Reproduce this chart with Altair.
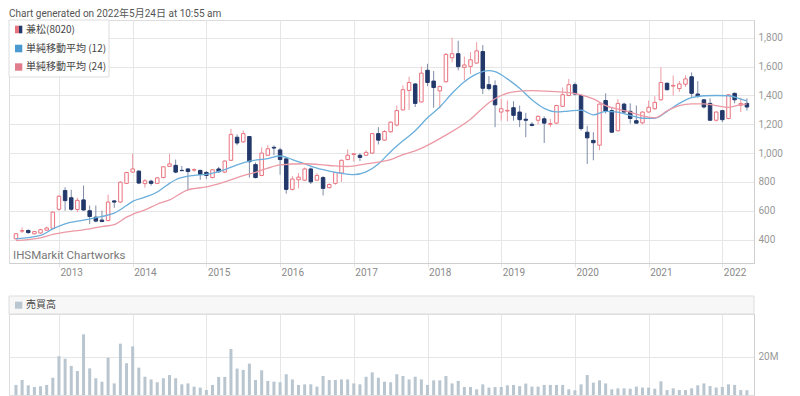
import json
import altair as alt
import pandas as pd

# ---------------- data (monthly, 2012-06 .. 2022-05) ----------------
opens = [405, 458, 463, 440, 445, 465, 478, 610, 740, 690, 608, 675, 600, 555, 535, 532, 668, 660, 790, 868,
         875, 788, 805, 790, 830, 908, 915, 880, 890, 882, 880, 866, 830, 890, 868, 950, 1110, 1078, 1115, 920,
         845, 985, 1040, 1022, 960, 748, 815, 812, 890, 812, 830, 760, 790, 860, 955, 990, 985, 985, 1000, 1135,
         1090, 1148, 1195, 1300, 1435, 1480, 1355, 1575, 1500, 1432, 1495, 1662, 1690, 1595, 1602, 1625, 1705, 1475, 1468, 1285,
         1292, 1315, 1285, 1235, 1200, 1228, 1238, 1200, 1208, 1325, 1400, 1475, 1400, 1145, 1088, 1055, 1365, 1295, 1155, 1340,
         1290, 1225, 1210, 1285, 1308, 1370, 1485, 1465, 1448, 1478, 1530, 1410, 1370, 1345, 1228, 1295, 1240, 1415, 1332, 1345]
highs = [445, 485, 470, 460, 475, 490, 595, 710, 763, 745, 690, 775, 636, 636, 600, 712, 675, 805, 870, 995,
         880, 820, 815, 835, 910, 995, 955, 910, 895, 895, 885, 875, 890, 905, 950, 1168, 1130, 1157, 1118, 935,
         1040, 1055, 1054, 1037, 965, 840, 860, 900, 900, 860, 840, 790, 870, 955, 1025, 1000, 1000, 1020, 1140, 1180,
         1160, 1220, 1330, 1470, 1530, 1485, 1600, 1620, 1570, 1470, 1695, 1800, 1780, 1670, 1700, 1770, 1750, 1535, 1505, 1375,
         1365, 1360, 1330, 1280, 1215, 1262, 1255, 1238, 1335, 1455, 1515, 1490, 1405, 1190, 1145, 1345, 1415, 1320, 1375, 1350,
         1345, 1330, 1290, 1365, 1395, 1595, 1490, 1538, 1500, 1540, 1560, 1500, 1375, 1380, 1290, 1300, 1410, 1420, 1385, 1380]
lows = [400, 445, 440, 435, 440, 460, 472, 600, 600, 600, 590, 600, 507, 520, 520, 525, 620, 655, 785, 862,
        785, 760, 775, 785, 825, 905, 860, 875, 740, 870, 815, 820, 825, 865, 860, 945, 1055, 1070, 830, 825,
        840, 980, 985, 850, 718, 740, 755, 805, 785, 805, 706, 755, 780, 800, 950, 940, 945, 980, 995, 1060,
        1085, 1140, 1185, 1295, 1300, 1320, 1350, 1465, 1315, 1310, 1490, 1630, 1575, 1505, 1550, 1620, 1410, 1435, 1180, 1225,
        1220, 1225, 1180, 1110, 1185, 1200, 1070, 1180, 1200, 1320, 1395, 1400, 1155, 925, 950, 1020, 1275, 1140, 1150, 1275,
        1205, 1205, 1200, 1280, 1300, 1365, 1435, 1400, 1425, 1460, 1390, 1385, 1310, 1225, 1220, 1215, 1235, 1345, 1285, 1295]
closes = [440, 462, 448, 455, 468, 480, 590, 700, 670, 610, 672, 605, 560, 528, 525, 660, 660, 798, 865, 890,
          792, 808, 790, 828, 905, 925, 868, 878, 872, 885, 852, 845, 884, 870, 945, 1130, 1070, 1135, 940, 830,
          1000, 1030, 1035, 955, 748, 820, 833, 890, 800, 845, 755, 782, 865, 950, 985, 995, 970, 1005, 1135, 1090,
          1150, 1215, 1295, 1440, 1490, 1345, 1555, 1490, 1455, 1462, 1685, 1690, 1600, 1612, 1648, 1710, 1450, 1448, 1335, 1308,
          1297, 1262, 1232, 1228, 1192, 1255, 1208, 1205, 1330, 1405, 1475, 1410, 1170, 1106, 1072, 1340, 1292, 1145, 1345, 1285,
          1240, 1208, 1285, 1318, 1352, 1490, 1440, 1470, 1480, 1515, 1415, 1393, 1320, 1228, 1285, 1232, 1405, 1370, 1345, 1320]
volumes_m = [5.3, 7.9, 5.1, 4.2, 4.6, 5.3, 9.1, 20.4, 19.1, 15.3, 12.6, 31.9, 14.0, 8.8, 7.0, 19.6, 6.1, 27.0, 16.7, 25.6,
             14.4, 9.6, 8.2, 6.7, 8.8, 10.5, 8.8, 5.6, 6.1, 4.4, 3.9, 2.6, 5.3, 9.5, 9.5, 24.2, 13.9, 13.2, 16.5, 7.9,
             13.0, 7.4, 7.0, 6.7, 10.9, 8.2, 5.3, 5.6, 5.6, 4.4, 10.0, 7.9, 7.9, 8.2, 8.2, 6.1, 5.6, 9.6, 11.9, 9.1,
             7.0, 6.7, 10.9, 10.0, 8.2, 9.6, 8.2, 5.3, 7.7, 7.7, 10.0, 6.1, 7.4, 4.2, 4.2, 3.0, 5.6, 3.9, 4.2, 4.2,
             5.1, 5.3, 4.7, 6.0, 4.4, 4.4, 5.3, 5.3, 5.3, 5.3, 3.0, 2.5, 5.6, 10.5, 6.5, 7.7, 6.1, 3.0, 3.5, 3.5,
             3.3, 4.4, 3.9, 3.9, 3.3, 7.2, 2.6, 3.5, 2.6, 2.6, 3.5, 5.1, 6.1, 4.7, 3.9, 4.2, 5.6, 5.3, 2.6, 2.5]

ma12_idx = [0, 4, 6, 8, 11, 14, 16, 18, 19, 21, 23, 24, 25, 26, 29, 31, 34, 36, 38, 41, 43, 45, 47, 49, 51, 53, 55, 57, 59,
            61, 63, 65, 67, 69, 71, 73, 75, 77, 78, 80, 82, 84, 86, 88, 90, 92, 94, 96, 98, 100, 102, 104, 106, 108, 110,
            112, 114, 116, 118, 119]
ma12_val = [405, 428, 474, 509, 535, 560, 583, 636, 665, 694, 730, 760, 790, 815, 845, 852, 885, 918, 944, 962, 980, 955,
            925, 895, 875, 860, 851, 870, 925, 1010, 1085, 1155, 1245, 1320, 1415, 1495, 1550, 1573, 1565, 1515, 1450, 1370,
            1310, 1286, 1292, 1298, 1265, 1290, 1285, 1262, 1242, 1242, 1290, 1345, 1385, 1398, 1400, 1398, 1375, 1362]
ma24_idx = [0, 4, 6, 8, 11, 14, 16, 18, 19, 21, 23, 25, 28, 31, 34, 37, 39, 41, 43, 47, 51, 54, 57, 59, 61, 63, 65, 70, 74,
            77, 79, 81, 84, 87, 90, 92, 94, 96, 98, 100, 102, 104, 106, 108, 110, 112, 114, 116, 118, 119]
ma24_val = [393, 412, 435, 451, 467, 490, 504, 555, 575, 606, 645, 675, 745, 765, 800, 844, 867, 895, 918, 926, 914, 907,
            925, 937, 955, 990, 1015, 1125, 1235, 1350, 1400, 1425, 1434, 1428, 1420, 1405, 1377, 1330, 1305, 1285, 1258,
            1245, 1293, 1330, 1342, 1342, 1330, 1318, 1337, 1342]

year_labels = ["2013", "2014", "2015", "2016", "2017", "2018", "2019", "2020", "2021", "2022"]
jan_idx = [7, 19, 31, 43, 55, 67, 79, 91, 103, 115]
price_ticks = [400, 600, 800, 1000, 1200, 1400, 1600, 1800]
price_labels = ["400", "600", "800", "1,000", "1,200", "1,400", "1,600", "1,800"]

title_text = "Chart generated on 2022年5月24日 at 10:55 am"
legend_labels = ["兼松(8020)", "単純移動平均 (12)", "単純移動平均 (24)"]
volume_label = "売買高"
watermark = "IHSMarkit Chartworks"

# ---------------- styling ----------------
UP = "#e8727e"
UP_WICK = "#ee9aa2"
DOWN = "#22386a"
DOWN_WICK = "#7f8ca8"
BLUE = "#6aaedb"
PINK = "#eb9aa6"
VOLC = "#b9c6d0"
GRID = "#e6e6e6"
LATIN = "Roboto, 'Noto Sans CJK JP'"
CJK = "'Noto Sans CJK JP', Roboto"

W = 745
H_TOP = 243
H_VOL = 81
XDOM = [-0.32, 119.34]
YDOM = [237, 1924]
VDOM = [0, 42.6]

n = len(opens)
candles = pd.DataFrame({
    "idx": list(range(n)), "open": opens, "high": highs, "low": lows, "close": closes,
})
candles["dir"] = ["up" if c >= o else "down" for o, c in zip(opens, closes)]
candles["lo"] = candles[["open", "close"]].min(axis=1)
candles["hi"] = candles[["open", "close"]].max(axis=1)
vol = pd.DataFrame({"idx": list(range(n)), "vol": volumes_m})
ma12 = pd.DataFrame({"idx": ma12_idx, "v": ma12_val})
ma24 = pd.DataFrame({"idx": ma24_idx, "v": ma24_val})
one = pd.DataFrame({"k": [0]})

year_expr = json.dumps(dict(zip([str(v) for v in jan_idx], year_labels)))
price_expr = json.dumps(dict(zip([str(v) for v in price_ticks], price_labels)))

xs = alt.Scale(domain=XDOM, nice=False, zero=False)
ys = alt.Scale(domain=YDOM, nice=False, zero=False)
x_axis = alt.Axis(values=jan_idx, labelExpr=f"{year_expr}[''+datum.value]",
                  grid=True, gridColor=GRID, tickSize=4, tickColor=GRID,
                  domainColor="#cfcfcf", labelAlign="left", labelOffset=1, labelPadding=0,
                  labelColor="#8a8a8a", labelFontSize=10, labelFont=LATIN, labelBaseline="top",
                  labelOverlap=False, orient="bottom")
y_axis = alt.Axis(orient="right", values=price_ticks, labelExpr=f"{price_expr}[''+datum.value]",
                  grid=True, gridColor=GRID, ticks=False, labelPadding=4, domainColor="#cfcfcf",
                  labelColor="#999999", labelFontSize=10, labelFont=LATIN, labelOverlap=False,
                  labelBaseline="middle")


def X(field):
    return alt.X(field, type="quantitative", scale=xs, title=None, axis=x_axis)


def Y(field):
    return alt.Y(field, type="quantitative", scale=ys, title=None, axis=y_axis)


wicks = alt.Chart(candles).mark_rule(strokeWidth=1).encode(
    x=X("idx"), y=Y("low"), y2="high:Q",
    color=alt.Color("dir:N", scale=alt.Scale(domain=["up", "down"], range=[UP_WICK, DOWN_WICK]), legend=None),
)
bodies = alt.Chart(candles).mark_bar(width=3.5, strokeWidth=1).encode(
    x=X("idx"), y=Y("lo"), y2="hi:Q",
    fill=alt.Fill("dir:N", scale=alt.Scale(domain=["up", "down"], range=["#ffffff", DOWN]), legend=None),
    stroke=alt.Stroke("dir:N", scale=alt.Scale(domain=["up", "down"], range=[UP, DOWN]), legend=None),
)
line12 = alt.Chart(ma12).mark_line(color=BLUE, strokeWidth=1.3, interpolate="monotone").encode(
    x=X("idx"), y=Y("v"))
line24 = alt.Chart(ma24).mark_line(color=PINK, strokeWidth=1.3, interpolate="monotone").encode(
    x=X("idx"), y=Y("v"))


def txt(s, x, y, size, color, font):
    return alt.Chart(one).mark_text(text=s, align="left", baseline="middle", fontSize=size,
                                    color=color, font=font).encode(x=alt.value(x), y=alt.value(y))


def box(x1, x2, y1, y2, fill, stroke=None):
    kw = {"fill": fill}
    if stroke:
        kw["stroke"] = stroke
        kw["strokeWidth"] = 1
    return alt.Chart(one).mark_rect(**kw).encode(
        x=alt.value(x1), x2=alt.value(x2), y=alt.value(y1), y2=alt.value(y2))


legend_layers = [
    box(0, 100, 0, 57, "#ffffff", "#dddddd"),
    box(6, 10, 5.7, 13.3, UP), box(10, 13.3, 5.7, 13.3, DOWN),
    box(6, 13.3, 24.7, 32.3, "#4a9ad0"),
    box(6, 13.3, 43.3, 50.7, "#e07c8c"),
    txt(legend_labels[0], 17, 9.5, 10, "#444444", CJK),
    txt(legend_labels[1], 17, 28.5, 10, "#444444", CJK),
    txt(legend_labels[2], 17, 47, 10, "#444444", CJK),
]

top = alt.layer(
    wicks, bodies, line12, line24,
    *legend_layers,
    txt(watermark, 4, H_TOP - 7, 11.5, "#777777", LATIN),
    txt(title_text, 0, -6, 10, "#555555", LATIN),
).properties(width=W, height=H_TOP)

x_vol = alt.X("idx:Q", scale=xs, title=None,
              axis=alt.Axis(values=jan_idx, labels=False, ticks=False, domain=False, grid=True, gridColor=GRID))
vol_bars = alt.Chart(vol).mark_bar(width=3, color=VOLC).encode(
    x=x_vol,
    y=alt.Y("vol:Q", scale=alt.Scale(domain=VDOM, nice=False), title=None,
            axis=alt.Axis(orient="right", values=[20], labelExpr="datum.value + 'M'", grid=True, gridColor=GRID,
                          ticks=False, labelPadding=4, domainColor="#cfcfcf", labelColor="#999999",
                          labelFontSize=10, labelFont=LATIN)),
)
bottom = alt.layer(
    vol_bars,
    box(0, W, -18, 0, "#f7f7f7", "#dddddd"),
    box(6, 13.3, -12.3, -5.3, VOLC),
    txt(volume_label, 17, -9, 10, "#444444", CJK),
).properties(width=W, height=H_VOL)

chart = alt.vconcat(top, bottom, spacing=17).properties(
    padding={"left": 0, "top": 0, "right": 0, "bottom": 0}
).configure_view(stroke="#dddddd").configure(font="Roboto")

chart.save("out.html", embed_options={"renderer": "svg", "actions": False})
